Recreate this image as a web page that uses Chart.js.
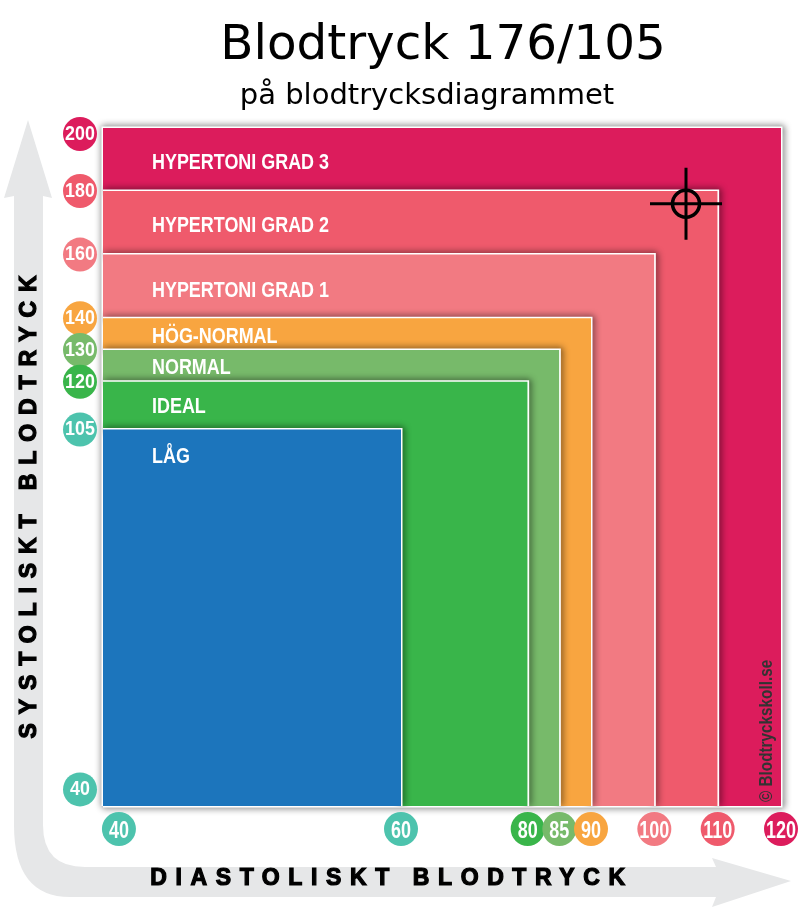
<!DOCTYPE html>
<html><head><meta charset="utf-8">
<style>html,body{margin:0;padding:0;background:#fff}canvas{display:block}</style>
<script src="https://cdn.jsdelivr.net/npm/chart.js@4/dist/chart.umd.js"></script>
</head><body><canvas id="c" width="800" height="908"></canvas>
<script>
// ---- data ----
const zoneNames = ['HYPERTONI GRAD 3','HYPERTONI GRAD 2','HYPERTONI GRAD 1','HÖG-NORMAL','NORMAL','IDEAL','LÅG'];
const zoneDiastolic = [120,110,100,90,85,80,60];
const zoneSystolic = [202,180,160,140,130,120,105];
const zoneColors = ['#DC1C5C','#EF5A6C','#F27A82','#F8A540','#77BA6A','#39B54A','#1C75BC'];
const xTicks = [40,60,80,85,90,100,110,120];
const xTickColors = ['#4DC3AD','#4DC3AD','#39B54A','#77BA6A','#F8A540','#F27A82','#EF5A6C','#DC1C5C'];
const yTicks = [200,180,160,140,130,120,105,40];
const yTickColors = ['#DC1C5C','#EF5A6C','#F27A82','#F8A540','#77BA6A','#39B54A','#4DC3AD','#4DC3AD'];
const readingDiastolic = [105];
const readingSystolic = [176];
const titleText = 'Blodtryck 176/105';
const subtitleText = 'på blodtrycksdiagrammet';
const xTitle = 'DIASTOLISKT BLODTRYCK';
const yTitle = 'SYSTOLISKT BLODTRYCK';
const credit = '© Blodtryckskoll.se';

// ---- styles / layout ----
const SANS = '"Liberation Sans",sans-serif';
const labelOffsets = [35,35,36,19,18,25,27];
const X_MIN = 38.87, Y_MIN = 37;
const frac = p => (806 - p) / 678;

// Piecewise-linear axis: the reference chart's axes are broken below the first real band.
class KnotScale extends Chart.LinearScale {
  static id = 'knotted';
  static defaults = Chart.LinearScale.defaults;
  getPixelForValue(v) {
    const {vals, fracs} = this.options.knots;
    let i = 0;
    while (i < vals.length - 2 && v > vals[i + 1]) i++;
    const t = (v - vals[i]) / (vals[i + 1] - vals[i]);
    return this.getPixelForDecimal(fracs[i] + t * (fracs[i + 1] - fracs[i]));
  }
  // Tick labels are horizontally condensed, like the narrow face of the original.
  drawLabels(chartArea) {
    const c = this.ctx, stretch = this.options.labelStretch;
    for (const item of this.getLabelItems(chartArea)) {
      c.save();
      c.translate(item.options.translation[0], item.options.translation[1]);
      c.scale(stretch, 1);
      c.font = item.font.string;
      c.fillStyle = item.options.color;
      c.textAlign = 'center';
      c.textBaseline = item.options.textBaseline;
      c.fillText(item.label, 0, item.textOffset);
      c.restore();
    }
  }
}
Chart.register(KnotScale);

const datasets = [];
zoneNames.forEach((n, i) => {
  const x = zoneDiastolic[i], y = zoneSystolic[i];
  const outline = i === 0
    ? [{x: X_MIN, y: Y_MIN}, {x: X_MIN, y}, {x, y}, {x, y: Y_MIN}, {x: X_MIN, y: Y_MIN}]
    : [{x: X_MIN, y}, {x, y}, {x, y: Y_MIN}];
  datasets.push({label: n + ' kant', showLine: true, pointRadius: 0, clip: i === 0 ? false : 1, fill: false,
    shadow: true, borderColor: '#fff', borderWidth: 3, borderJoinStyle: 'miter', order: 200 - i * 2,
    data: outline});
  datasets.push({label: n, showLine: true, pointRadius: 0, clip: false, fill: 'start',
    backgroundColor: zoneColors[i], borderColor: 'transparent', borderWidth: 1, order: 199 - i * 2,
    data: [{x: X_MIN, y}, {x, y}, {x, y: Y_MIN}]});
});
const reading = readingDiastolic.map((x, i) => ({x, y: readingSystolic[i]}));
datasets.push({label: 'Kryss', data: reading, pointStyle: 'cross', pointRadius: 36, pointBorderWidth: 3,
  pointBorderColor: '#000', clip: false, order: 2});
datasets.push({label: 'Ring', data: reading, pointStyle: 'circle', pointRadius: 13.5, pointBorderWidth: 3.5,
  pointBorderColor: '#000', pointBackgroundColor: 'transparent', clip: false, order: 1});

const shadowPlugin = {
  id: 'shadow',
  beforeDatasetDraw(chart, args) {
    if (chart.data.datasets[args.index].shadow) {
      chart.ctx.save();
      chart.ctx.shadowColor = 'rgba(0,0,0,0.9)';
      chart.ctx.shadowBlur = 7;
      chart.ctx.shadowOffsetX = 1;
    }
  },
  afterDatasetDraw(chart, args) {
    if (chart.data.datasets[args.index].shadow) chart.ctx.restore();
  }
};

const backdropPlugin = {
  id: 'backdrop',
  beforeDraw(chart) {
    const c = chart.ctx;
    c.save();
    c.fillStyle = '#fff'; c.fillRect(0, 0, 800, 908);
    c.fillStyle = '#E6E7E8';
    c.beginPath();
    c.moveTo(28, 120); c.lineTo(52, 198); c.lineTo(43, 196); c.lineTo(43, 825);
    c.quadraticCurveTo(43, 867, 85, 867);
    c.lineTo(716, 867); c.lineTo(712, 858); c.lineTo(791, 881); c.lineTo(712, 907); c.lineTo(716, 897);
    c.lineTo(70, 897);
    c.quadraticCurveTo(14, 897, 14, 825);
    c.lineTo(14, 196); c.lineTo(4, 198);
    c.closePath(); c.fill();
    c.restore();
  }
};

function heavyText(c, text, x, y) {
  c.fillText(text, x, y);
  c.strokeText(text, x, y);
}

const badgePlugin = {
  id: 'badges',
  afterDatasetsDraw(chart) {
    const c = chart.ctx, sx = chart.scales.x, sy = chart.scales.y;
    c.save();
    xTicks.forEach((v, i) => {
      c.fillStyle = xTickColors[i];
      c.beginPath(); c.arc(sx.getPixelForValue(v), 829, 17, 0, Math.PI * 2); c.fill();
    });
    yTicks.forEach((v, i) => {
      c.fillStyle = yTickColors[i];
      c.beginPath(); c.arc(80, sy.getPixelForValue(v), 17, 0, Math.PI * 2); c.fill();
    });
    // zone names
    c.fillStyle = '#fff'; c.textAlign = 'left'; c.textBaseline = 'middle';
    c.font = 'bold 22px ' + SANS;
    zoneNames.forEach((n, i) => {
      c.save();
      c.translate(chart.chartArea.left + 49, sy.getPixelForValue(zoneSystolic[i]) + labelOffsets[i]);
      c.scale(0.815, 1);
      c.fillText(n, 0, 0);
      c.restore();
    });
    // credit
    c.save();
    c.translate(767, 802); c.rotate(-Math.PI / 2); c.scale(0.85, 1);
    c.fillStyle = '#333'; c.font = 'bold 18px ' + SANS; c.textBaseline = 'middle';
    c.fillText(credit, 0, 0);
    c.restore();
    // titles
    c.fillStyle = '#000'; c.strokeStyle = '#000'; c.lineWidth = 1.2; c.textAlign = 'center';
    c.font = '48.4px "DejaVu Sans"'; c.fillText(titleText, 443, 46.5);
    c.font = '29px "DejaVu Sans"'; c.fillText(subtitleText, 427, 96.5);
    c.font = 'bold 23px ' + SANS; c.letterSpacing = '8.6px';
    heavyText(c, xTitle, 392, 879);
    c.letterSpacing = '8.9px';
    c.save();
    c.translate(30, 502.5); c.rotate(-Math.PI / 2);
    heavyText(c, yTitle, 0, 0);
    c.restore();
    c.restore();
  }
};

new Chart(document.getElementById('c'), {
  type: 'scatter',
  data: {datasets},
  plugins: [backdropPlugin, shadowPlugin, badgePlugin],
  options: {
    responsive: false, animation: false, devicePixelRatio: 1,
    layout: {autoPadding: false, padding: {left: 63, right: 19, top: 128, bottom: 62}},
    plugins: {legend: {display: false}, tooltip: {enabled: false}, title: {display: false}},
    scales: {
      x: {
        type: 'knotted', min: X_MIN, max: 120, labelStretch: 0.75,
        knots: {vals: [X_MIN, 60, 120], fracs: [0, (401 - 103) / 678, 1]},
        grid: {display: false, drawTicks: false}, border: {display: false},
        afterFit(s) { s.height = 40; s.paddingLeft = 0; s.paddingRight = 0; },
        afterBuildTicks(s) { s.ticks = xTicks.map(value => ({value})); },
        ticks: {z: 1, autoSkip: false, maxRotation: 0, padding: 11, color: '#fff', callback: v => String(v),
          font: {family: SANS, size: 24, weight: 'bold'}}
      },
      y: {
        type: 'knotted', min: Y_MIN, max: 202, labelStretch: 0.85,
        knots: {vals: [Y_MIN, 105, 180, 200, 202], fracs: [0, frac(429.5), frac(191), frac(134), 1]},
        grid: {display: false, drawTicks: false}, border: {display: false},
        afterFit(s) { s.width = 40; s.paddingTop = 0; s.paddingBottom = 0; },
        afterBuildTicks(s) { s.ticks = yTicks.map(value => ({value})); },
        ticks: {z: 1, autoSkip: false, padding: 5.5, crossAlign: 'center', color: '#fff', callback: v => String(v),
          font: {family: SANS, size: 21, weight: 'bold'}}
      }
    }
  }
});
</script></body></html>
